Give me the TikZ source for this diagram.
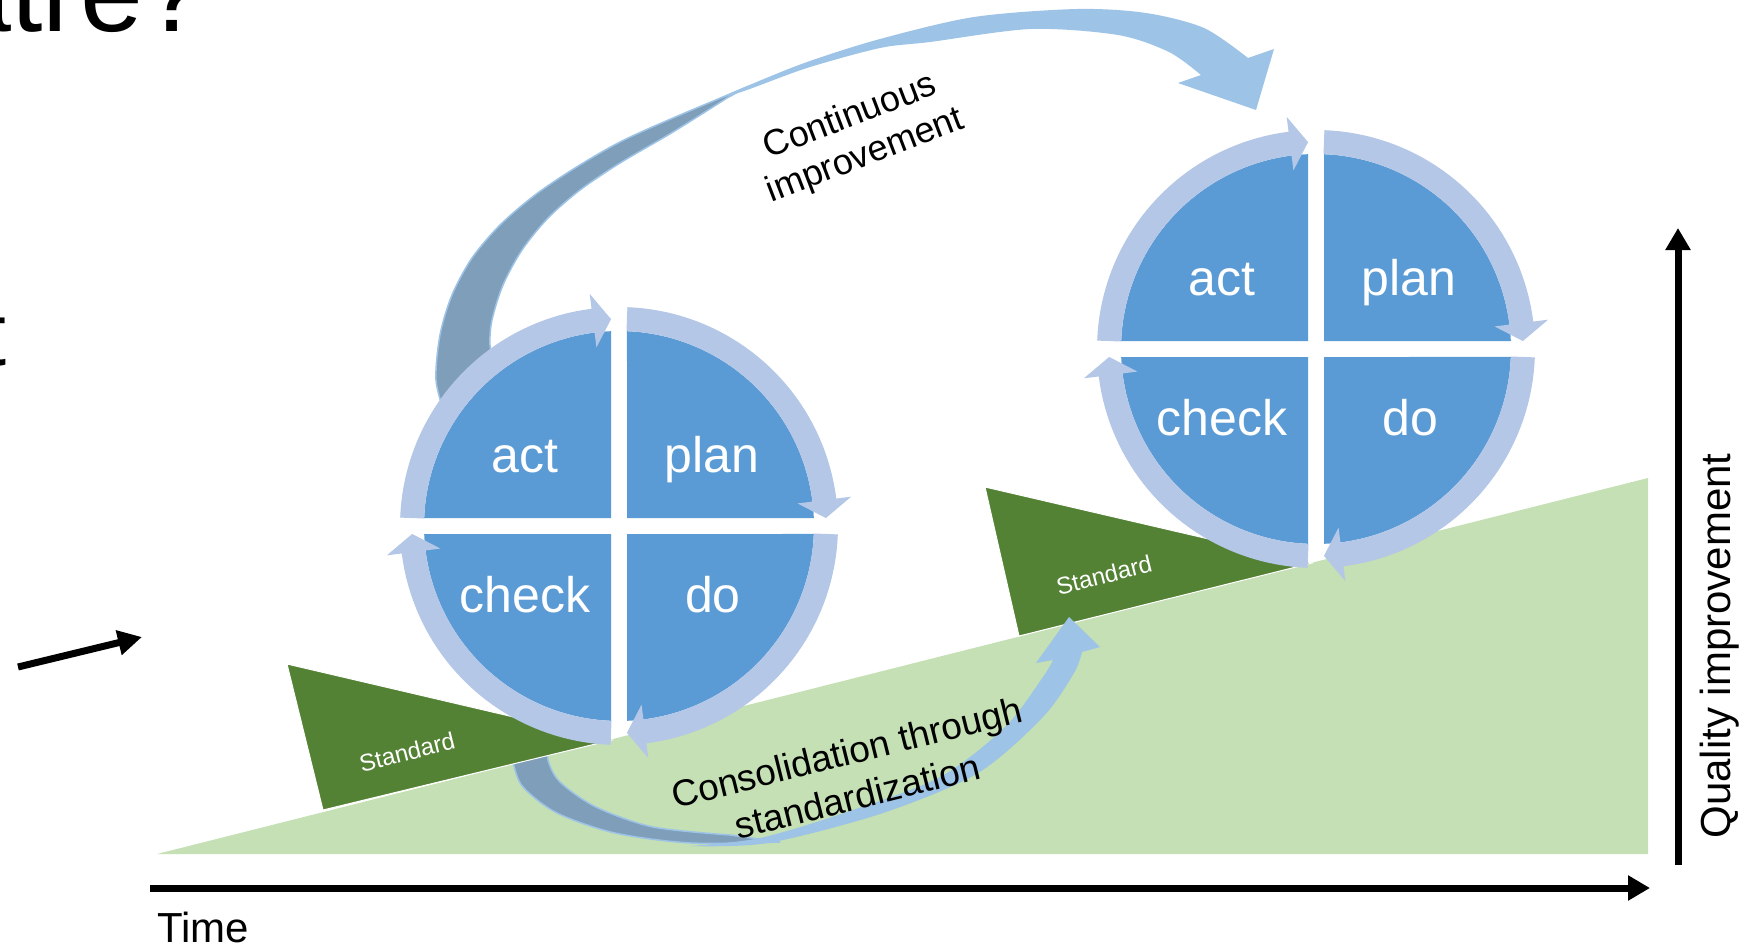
\documentclass[tikz,border=0pt]{standalone}
\usepackage{fontspec}
\setmainfont{Liberation Sans}
\usetikzlibrary{arrows.meta}
\definecolor{quadblue}{HTML}{5B9BD5}
\definecolor{ringblue}{HTML}{B4C7E7}
\definecolor{arrowlight}{HTML}{9DC3E6}
\definecolor{arrowdark}{HTML}{7F9EBA}
\definecolor{groundgreen}{HTML}{C5E0B4}
\definecolor{wedgegreen}{HTML}{548235}
\tikzset{
 quadtext/.style={text=white,font=\fontsize{50}{60}\selectfont,anchor=base,inner sep=0pt},
 stdtext/.style={text=white,font=\fontsize{24}{28}\selectfont,rotate=14,inner sep=0pt},
 frontarrow/.style={fill=arrowlight},
 backarrow/.style={fill=arrowdark,draw=arrowlight,line width=1.5pt},
 axisline/.style={line width=7pt,-{Triangle[length=22pt,width=24pt]}},
 quadfill/.style={fill=quadblue},
 ringfill/.style={fill=ringblue},
 wedgefill/.style={fill=wedgegreen,draw=white,line width=1pt},
}
\newcommand{\pdcacycle}[3]{%
 \begin{scope}[shift={(#2,#3)}]
 \foreach \ang in {0,90,180,270}{
  \fill[quadfill] (\ang+45:11.31) -- plot[domain=\ang+2.35:\ang+87.65,samples=40] (\x:195) -- cycle;
 }
 \foreach \ang in {0,90,180,270}{
  \fill[ringfill] plot[domain=\ang+2.2:\ang+82.8,samples=40] (\x:219) -- (\ang+82.8:234) -- (\ang+87.8:207) -- (\ang+82.8:180) -- plot[domain=\ang+82.8:\ang+2.2,samples=40] (\x:195) -- cycle;
 }
 \node[quadtext] (#1-act) at (-94,-54) {act};
 \node[quadtext] (#1-plan) at (93,-54) {plan};
 \node[quadtext] (#1-check) at (-94,86) {check};
 \node[quadtext] (#1-do) at (94,86) {do};
 \end{scope}}
\begin{document}
\begin{tikzpicture}[x=1pt,y=-1pt]
\useasboundingbox (0,0) rectangle (1762,945);
% cut-off slide text
\node[anchor=base west,inner sep=0pt,font=\fontsize{113}{120}\selectfont] (title) at (-52,31) {atre?};
\node[anchor=base east,inner sep=0pt,font=\fontsize{90}{100}\selectfont] (bodyt) at (7,365) {t};
% ground
\fill[groundgreen] (157,854) -- (1648,478) -- (1648,854) -- cycle;
% consolidation arrow, back part
\filldraw[backarrow] plot[smooth] coordinates {(508,745) (513,763) (523,787) (557,813) (615,833) (691,843) (780,842)} -- plot[smooth] coordinates {(730,835) (653,827) (596,807) (560,782) (548,760) (550,742)} -- cycle;
% wedges
\path[wedgefill] (287,664) -- (323,810) -- (612,740) -- cycle;
\path[wedgefill] (985,487) -- (1019,636) -- (1312,563) -- cycle;
% consolidation arrow, front part
\fill[frontarrow] plot[smooth] coordinates {(690,846) (768,843) (883,813) (978,773) (1043,717) (1074,673) (1082,652)} -- (1100,647) -- (1069,617) -- (1036,663) -- plot[smooth] coordinates {(1053,660) (1043,677) (1005,727) (940,777) (844,813) (760,838) (690,846)} -- cycle;
% continuous improvement arrow, back part
\filldraw[backarrow] plot[smooth] coordinates {(445,415) (436,380) (440,335) (452,295) (472,258) (500,225) (535,195) (575,168) (620,142) (673,118) (747,87)} -- plot[smooth] coordinates {(727,98) (673,132) (620,163) (580,190) (548,218) (522,250) (503,285) (492,320) (490,345) (495,362)} -- cycle;
% continuous improvement arrow, front part
\fill[frontarrow] plot[smooth] coordinates {(715,100) (747,86) (807,62) (880,39) (974,17) (1077,9) (1146,13) (1204,28) (1248,58)} -- (1274,49) -- (1256,110) -- (1178,83) -- plot[smooth] coordinates {(1201,75) (1169,52) (1118,35) (1031,29) (930,42) (880,48) (807,68) (747,90) (715,100)} -- cycle;
% PDCA circles
\pdcacycle{L}{619}{526}
\pdcacycle{R}{1316}{349}
% labels
\node[stdtext] (std1) at (407,752) {Standard};
\node[stdtext] (std2) at (1104,575) {Standard};
\node[font=\fontsize{36}{42}\selectfont,align=center,rotate=21] (ci) at (858,137) {Continuous\\improvement};
\node[font=\fontsize{37}{45}\selectfont,align=center,rotate=14] (cs) at (852,774) {Consolidation through\\standardization};
% axes
\coordinate (t0) at (150,888);
\coordinate (t1) at (1650,888);
\draw[axisline] (t0) -- (t1);
\coordinate (q0) at (1678,865);
\coordinate (q1) at (1678,228);
\draw[axisline] (q0) -- (q1);
\node[anchor=base west,inner sep=0pt,font=\fontsize{42}{50}\selectfont] (time) at (157,942) {Time};
\node[rotate=90,inner sep=0pt,font=\fontsize{42}{50}\selectfont] (quality) at (1720,646) {Quality improvement};
% black arrow
\coordinate (b0) at (18,667);
\coordinate (b1) at (142,637);
\draw[line width=7pt,-{Triangle[length=24pt,width=24pt]}] (b0) -- (b1);
\end{tikzpicture}
\end{document}
